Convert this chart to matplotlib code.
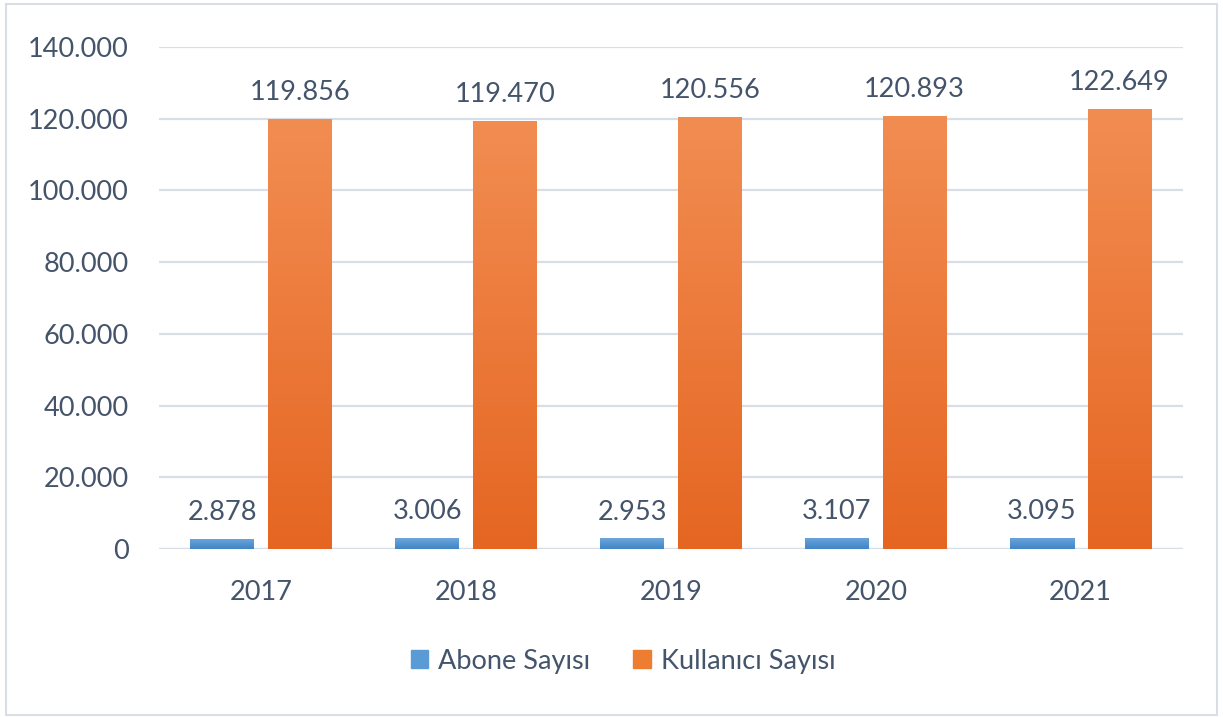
import matplotlib
matplotlib.use("Agg")
import matplotlib.pyplot as plt
import numpy as np
from matplotlib.patches import Rectangle
from matplotlib.colors import LinearSegmentedColormap

years = ["2017", "2018", "2019", "2020", "2021"]
abone = [2878, 3006, 2953, 3107, 3095]
kullanici = [119856, 119470, 120556, 120893, 122649]
abone_labels = ["2.878", "3.006", "2.953", "3.107", "3.095"]
kullanici_labels = ["119.856", "119.470", "120.556", "120.893", "122.649"]
yticks = [0, 20000, 40000, 60000, 80000, 100000, 120000, 140000]
ytick_labels = ["0", "20.000", "40.000", "60.000", "80.000", "100.000", "120.000", "140.000"]

plt.rcParams['font.family'] = ['Lato', 'DejaVu Sans']
text_color = "#44546A"
grid_color = "#D9DEE6"
fs = 19.5

fig = plt.figure(figsize=(12.23, 7.17), dpi=100)
ax = fig.add_axes([159/1223, 1 - 549/717, 1024/1223, 502/717])

x = np.arange(len(years))
w = 0.3125
off = 0.19

blue_bars = ax.bar(x - off, abone, width=w, color="#5B9BD5", zorder=3, label="Abone Sayısı")
orange_bars = ax.bar(x + off, kullanici, width=w, color="#ED7D31", zorder=3, label="Kullanıcı Sayısı")

def gradient(bars, top, bottom):
    cmap = LinearSegmentedColormap.from_list("g", [bottom, top])
    grad = np.linspace(0, 1, 256).reshape(-1, 1)
    for b in bars:
        bx, by = b.get_x(), b.get_y()
        bw, bh = b.get_width(), b.get_height()
        im = ax.imshow(grad, cmap=cmap, origin="lower", aspect="auto",
                       extent=[bx, bx + bw, by, by + bh], zorder=3.5)
        im.set_clip_path(b)

gradient(blue_bars, "#6FA6DC", "#3E85C6")
gradient(orange_bars, "#F28D52", "#E56622")

for i in range(len(years)):
    ax.annotate(abone_labels[i], (x[i] - off, abone[i]), xytext=(0, 10), textcoords="offset points",
                ha="center", va="bottom", fontsize=fs, color=text_color)
    ax.annotate(kullanici_labels[i], (x[i] + off, kullanici[i]), xytext=(0, 10), textcoords="offset points",
                ha="center", va="bottom", fontsize=fs, color=text_color)

ax.set_xlim(-0.5, len(years) - 0.5)
ax.set_ylim(0, 140000)
ax.set_yticks(yticks)
ax.set_yticklabels(ytick_labels)
ax.set_xticks(x)
ax.set_xticklabels(years)
ax.tick_params(axis="both", length=0, labelsize=fs, colors=text_color)
ax.tick_params(axis="y", pad=22)
ax.tick_params(axis="x", pad=22)
ax.grid(axis="y", color=grid_color, linewidth=1.6, zorder=0)
for s in ax.spines.values():
    s.set_visible(False)
ax.axhline(0, color=grid_color, linewidth=1.6, zorder=2)

leg = fig.legend(handles=[blue_bars, orange_bars], loc="center", bbox_to_anchor=(623/1223, 1 - 661/717),
                 ncol=2, frameon=False, fontsize=fs, labelcolor=text_color,
                 handlelength=0.65, handleheight=0.65, handletextpad=0.35, columnspacing=1.6)
leg.legend_handles[0].set_color("#5B9BD5")
leg.legend_handles[1].set_color("#ED7D31")

fig.patches.append(Rectangle((6/1223, 1 - 715/717), 1211/1223, 711/717, transform=fig.transFigure,
                             fill=False, edgecolor=grid_color, linewidth=1.5))

fig.savefig("out.png", dpi=100, facecolor="white")
